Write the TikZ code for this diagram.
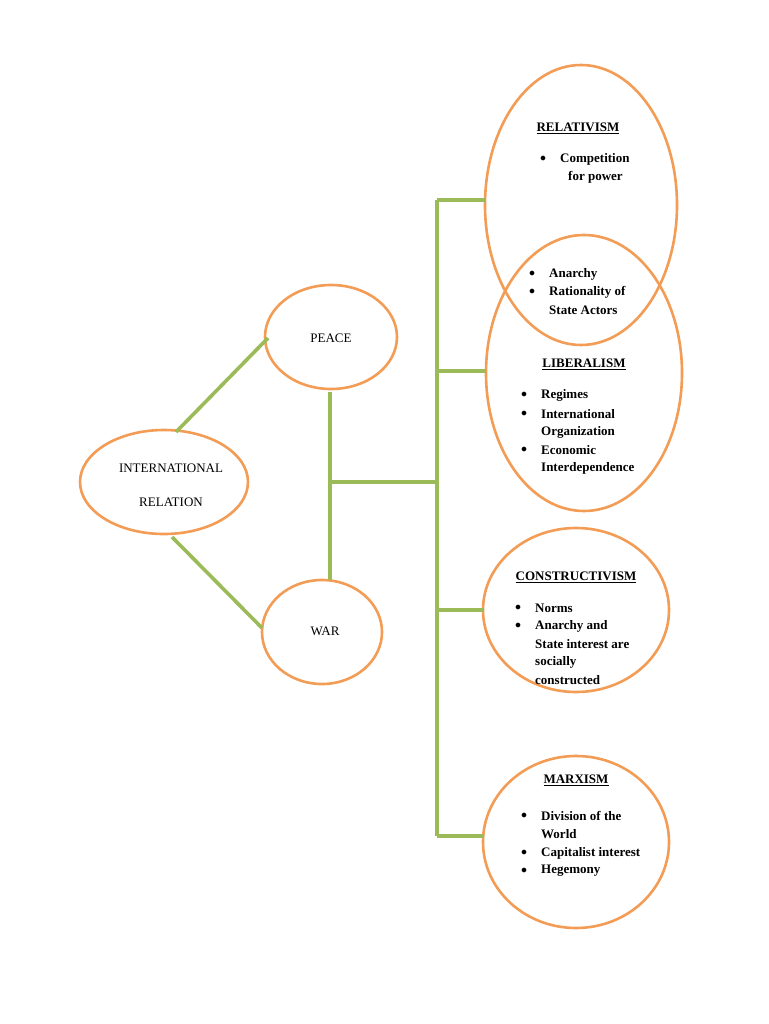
\documentclass[tikz,border=0pt]{standalone}
\usepackage{fontspec}
\setmainfont{Liberation Serif}
\usepackage{tikz}
\usetikzlibrary{shapes.geometric}
\definecolor{ringorange}{HTML}{F39C55}
\definecolor{linkgreen}{HTML}{9BBB59}
\tikzset{
  ring/.style={draw=ringorange, line width=2.6pt, ellipse, inner sep=0pt},
  link/.style={draw=linkgreen, line width=3.6pt},
  txt/.style={font=\fontsize{13}{15}\selectfont, inner sep=0pt, anchor=west},
  head/.style={font=\fontsize{13}{15}\selectfont\bfseries, inner sep=0pt}
}
\newcommand{\bul}[3]{\node[txt] at (#1-20,#2) {$\bullet$}; \node[txt, font=\fontsize{13}{15}\selectfont\bfseries] at (#1,#2) {#3};}
\begin{document}
\begin{tikzpicture}[x=1pt,y=-1pt]
\useasboundingbox (0,0) rectangle (768,1024);
% ellipses
\node[ring, minimum width=168, minimum height=104] (ir) at (164,482) {};
\node[ring, minimum width=132, minimum height=104] (peace) at (331,337) {};
\node[ring, minimum width=120, minimum height=104] (war) at (322,632) {};
\node[ring, minimum width=192, minimum height=280] (rel) at (581,205) {};
\node[ring, minimum width=196, minimum height=276] (lib) at (584,373) {};
\node[ring, minimum width=186, minimum height=164] (con) at (576,610) {};
\node[ring, minimum width=186, minimum height=172] (mar) at (576,842) {};
% junctions
\coordinate (irtop) at (176,432);
\coordinate (irbot) at (172,537);
\coordinate (pw) at (268,338);
\coordinate (ww) at (262,628);
\coordinate (ptop) at (330,392);
\coordinate (pbot) at (330,580);
\coordinate (mid) at (330,482);
\coordinate (trunk) at (437,482);
\coordinate (t1) at (437,200);
\coordinate (t2) at (437,371);
\coordinate (t3) at (437,610);
\coordinate (t4) at (437,836);
\coordinate (b1) at (486,200);
\coordinate (b2) at (486,371);
\coordinate (b3) at (484,610);
\coordinate (b4) at (484,836);
% links
\draw[link] (irtop) -- (pw);
\draw[link] (irbot) -- (ww);
\draw[link] (ptop) -- (pbot);
\draw[link] (mid) -- (trunk);
\draw[link] (t1) -- (t4);
\draw[link] (t1) -- (b1);
\draw[link] (t2) -- (b2);
\draw[link] (t3) -- (b3);
\draw[link] (t4) -- (b4);
% labels
\node[txt, anchor=center] (irlab1) at (171,468) {INTERNATIONAL};
\node[txt, anchor=center] (irlab2) at (171,502) {RELATION};
\node[txt, anchor=center] (peacelab) at (331,338) {PEACE};
\node[txt, anchor=center] (warlab) at (325,631) {WAR};
\node[head] (relh) at (578,128) {\underline{RELATIVISM}};
\node[head] (libh) at (584,364) {\underline{LIBERALISM}};
\node[head] (conh) at (576,577) {\underline{CONSTRUCTIVISM}};
\node[head] (marh) at (576,780) {\underline{MARXISM}};
\bul{560}{159}{Competition}
\node[txt, font=\fontsize{13}{15}\selectfont\bfseries] at (568,177) {for power};
\bul{549}{274}{Anarchy}
\bul{549}{292}{Rationality of}
\node[txt, font=\fontsize{13}{15}\selectfont\bfseries] at (549,310) {State Actors};
\bul{541}{395}{Regimes}
\bul{541}{414}{International}
\node[txt, font=\fontsize{13}{15}\selectfont\bfseries] at (541,432) {Organization};
\bul{541}{450}{Economic}
\node[txt, font=\fontsize{13}{15}\selectfont\bfseries] at (541,468) {Interdependence};
\bul{535}{608}{Norms}
\bul{535}{626}{Anarchy and}
\node[txt, font=\fontsize{13}{15}\selectfont\bfseries] at (535,644) {State interest are};
\node[txt, font=\fontsize{13}{15}\selectfont\bfseries] at (535,662) {socially};
\node[txt, font=\fontsize{13}{15}\selectfont\bfseries] at (535,680) {constructed};
\bul{541}{816}{Division of the}
\node[txt, font=\fontsize{13}{15}\selectfont\bfseries] at (541,834) {World};
\bul{541}{853}{Capitalist interest}
\bul{541}{871}{Hegemony}
\end{tikzpicture}
\end{document}
